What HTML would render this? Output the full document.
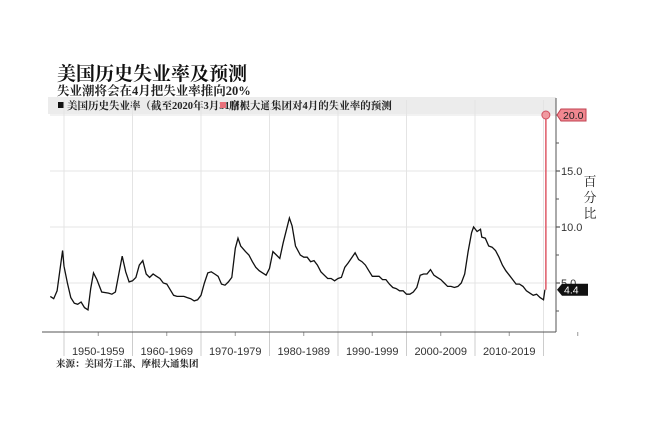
<!DOCTYPE html>
<html><head><meta charset="utf-8">
<style>
html,body{margin:0;padding:0;background:#fff;}
body{width:652px;height:425px;overflow:hidden;}
svg text{font-family:"Liberation Serif","Noto Serif CJK SC",serif;}
</style></head>
<body>
<svg id="chart" width="652" height="425" viewBox="0 0 652 425" xmlns="http://www.w3.org/2000/svg">
<text x="57" y="80" font-size="19" font-weight="bold" fill="#111">美国历史失业率及预测</text>
<text x="57" y="95" font-size="12.5" font-weight="bold" fill="#222">失业潮将会在4月把失业率推向20%</text>
<rect x="48" y="97" width="508" height="17" fill="#ececec"/>
<g>
<rect x="58" y="102" width="6" height="6" fill="#111"/>
<text x="67" y="109" font-size="10.5" font-weight="bold" fill="#222">美国历史失业率（截至2020年3月31日）</text>
</g>
<g>
<rect x="220" y="102" width="6" height="6" fill="#e8707a"/>
<text x="229" y="109" font-size="10.5" font-weight="bold" fill="#222">摩根大通集团对4月的失业率的预测</text>
</g>
<g id="grid"></g>
<g id="axes"></g>
<path id="line" fill="none" stroke="#111" stroke-width="1.3"/>
<g id="forecast"></g>
<text x="590" y="186" font-size="13" fill="#222" text-anchor="middle">百</text>
<text x="590" y="202" font-size="13" fill="#222" text-anchor="middle">分</text>
<text x="590" y="218" font-size="13" fill="#222" text-anchor="middle">比</text>
<text x="56" y="367" font-size="9.5" font-weight="bold" fill="#222">来源：美国劳工部、摩根大通集团</text>
</svg>
<script>
const years=[1948.0,1948.5,1949.0,1949.5,1949.8,1950.0,1950.5,1951.0,1951.5,1952.0,1952.5,1953.0,1953.5,1953.9,1954.3,1954.8,1955.5,1956.5,1957.0,1957.5,1958.0,1958.5,1959.0,1959.5,1960.0,1960.5,1961.0,1961.5,1962.0,1962.5,1963.0,1963.5,1964.0,1964.5,1965.0,1965.5,1966.0,1966.5,1967.0,1967.5,1968.0,1968.5,1969.0,1969.5,1970.0,1970.5,1971.0,1971.5,1972.0,1972.5,1973.0,1973.5,1974.0,1974.5,1975.0,1975.4,1975.8,1976.5,1977.0,1977.5,1978.0,1978.5,1979.0,1979.5,1980.0,1980.5,1981.0,1981.5,1982.0,1982.5,1982.9,1983.3,1983.8,1984.5,1985.0,1985.5,1986.0,1986.5,1987.0,1987.5,1988.0,1988.5,1989.0,1989.5,1990.0,1990.5,1991.0,1991.5,1992.5,1993.0,1993.5,1994.0,1994.5,1995.0,1995.5,1996.0,1996.5,1997.0,1997.5,1998.0,1998.5,1999.0,1999.5,2000.0,2000.5,2001.0,2001.5,2002.0,2002.5,2003.0,2003.5,2004.0,2004.5,2005.0,2005.5,2006.0,2006.5,2007.0,2007.5,2008.0,2008.5,2009.0,2009.5,2009.8,2010.3,2010.8,2011.0,2011.5,2012.0,2012.5,2013.0,2013.5,2014.0,2014.5,2015.0,2015.5,2016.0,2016.5,2017.0,2017.5,2018.0,2018.5,2019.0,2019.5,2020.0,2020.2];
const rates=[3.8,3.6,4.3,6.6,7.9,6.5,5.0,3.7,3.2,3.1,3.3,2.8,2.6,4.5,5.9,5.3,4.2,4.1,4.0,4.2,5.8,7.4,6.0,5.1,5.2,5.5,6.6,7.0,5.8,5.5,5.8,5.6,5.4,5.0,4.9,4.4,3.9,3.8,3.8,3.8,3.7,3.6,3.4,3.5,3.9,5.0,5.9,6.0,5.8,5.6,4.9,4.8,5.1,5.5,8.1,9.0,8.3,7.8,7.5,6.9,6.4,6.1,5.9,5.7,6.3,7.8,7.5,7.2,8.6,9.8,10.8,10.1,8.3,7.5,7.3,7.3,6.9,7.0,6.6,6.0,5.7,5.4,5.4,5.2,5.4,5.5,6.4,6.8,7.7,7.1,6.9,6.6,6.1,5.6,5.6,5.6,5.3,5.3,4.9,4.6,4.5,4.3,4.3,4.0,4.0,4.2,4.6,5.7,5.8,5.8,6.2,5.7,5.5,5.3,5.0,4.7,4.7,4.6,4.7,5.0,5.8,7.8,9.5,10.0,9.6,9.8,9.1,9.0,8.3,8.2,7.9,7.3,6.6,6.1,5.7,5.3,4.9,4.9,4.7,4.3,4.1,3.9,4.0,3.7,3.5,4.4];
const forecastValue=20.0;
const lastValue=4.4;
const yTicks=[5,10,15,20];
const yTickLabels=["5.0","10.0","15.0","20.0"];
const decadeLabels=["1950-1959","1960-1969","1970-1979","1980-1989","1990-1999","2000-2009","2010-2019"];
const decadeStarts=[1950,1960,1970,1980,1990,2000,2010];

const NS="http://www.w3.org/2000/svg";
const X0=50,X1=556,YB=332;
function xs(yr){return 64+(yr-1950)*6.85;}
function ys(v){return 339-v*11.2;}
function mk(tag,attrs,parent){const e=document.createElementNS(NS,tag);for(const k in attrs)e.setAttribute(k,attrs[k]);parent.appendChild(e);return e;}
const grid=document.getElementById('grid'),axes=document.getElementById('axes'),fc=document.getElementById('forecast');

yTicks.forEach((t,i)=>{
  const g=mk('line',{x1:X0,x2:X1,y1:ys(t),y2:ys(t),stroke:'#e4e4e4','stroke-width':1},grid);
  
  
  mk('line',{x1:X1,x2:X1+4,y1:ys(t),y2:ys(t),stroke:'#333'},axes);
  const tx=mk('text',{x:X1+5,y:ys(t)+4,'font-size':11,fill:'#333'},axes);
  
  
  tx.style.fontFamily='"Liberation Sans",sans-serif';
  tx.textContent=yTickLabels[i];
  mk('line',{x1:X1,x2:X1+3,y1:ys(t-2.5),y2:ys(t-2.5),stroke:'#555'},axes);
});
decadeStarts.concat([2020]).forEach(d=>{
  const g=mk('line',{x1:xs(d),x2:xs(d),y1:100,y2:YB,stroke:'#e4e4e4'},grid);
  
  
  mk('line',{x1:xs(d),x2:xs(d),y1:YB,y2:356,stroke:'#ccc'},axes);
  mk('line',{x1:xs(d+5),x2:xs(d+5),y1:YB,y2:YB+4,stroke:'#999'},axes);
});
decadeLabels.forEach((l,i)=>{
  const tx=mk('text',{x:xs(decadeStarts[i]+5),y:355,'font-size':11,fill:'#333','text-anchor':'middle'},axes);
  
  
  tx.style.fontFamily='"Liberation Sans",sans-serif';
  tx.textContent=l;
});
const xa=mk('line',{x1:X0-8,x2:X1,y1:YB,y2:YB,stroke:'#555'},axes);


const ya=mk('line',{x1:X1,x2:X1,y1:98,y2:YB,stroke:'#555'},axes);



document.getElementById('line').setAttribute('d',years.map((y,i)=>(i?'L':'M')+xs(y).toFixed(1)+','+ys(rates[i]).toFixed(1)).join(''));

const lastYear=years[years.length-1];
const fx=xs(lastYear)+1;
const rl=mk('line',{x1:fx,x2:fx,y1:ys(lastValue),y2:ys(forecastValue),stroke:'#e06470','stroke-width':1.6},fc);


const c=mk('circle',{cx:fx,cy:ys(forecastValue),r:4,fill:'#f09aa0',stroke:'#d05060'},fc);


const fy=ys(forecastValue);
const fl=mk('path',{d:`M${X1+1},${fy} L${X1+5},${fy-6} H${X1+30} V${fy+6} H${X1+5} Z`,fill:'#f08890',stroke:'#c04050'},fc);


const ft=mk('text',{x:X1+7,y:fy+4,'font-size':10.5,fill:'#222'},fc);
ft.style.fontFamily='"Liberation Sans",sans-serif';
ft.textContent=forecastValue.toFixed(1);
const ly=ys(lastValue);
const ll=mk('path',{d:`M${X1+1},${ly} L${X1+6},${ly-6} H${X1+32} V${ly+6} H${X1+6} Z`,fill:'#111'},fc);


const lt=mk('text',{x:X1+8,y:ly+4,'font-size':10.5,fill:'#fff'},fc);
lt.style.fontFamily='"Liberation Sans",sans-serif';
lt.textContent=lastValue.toFixed(1);
</script>
</body></html>
